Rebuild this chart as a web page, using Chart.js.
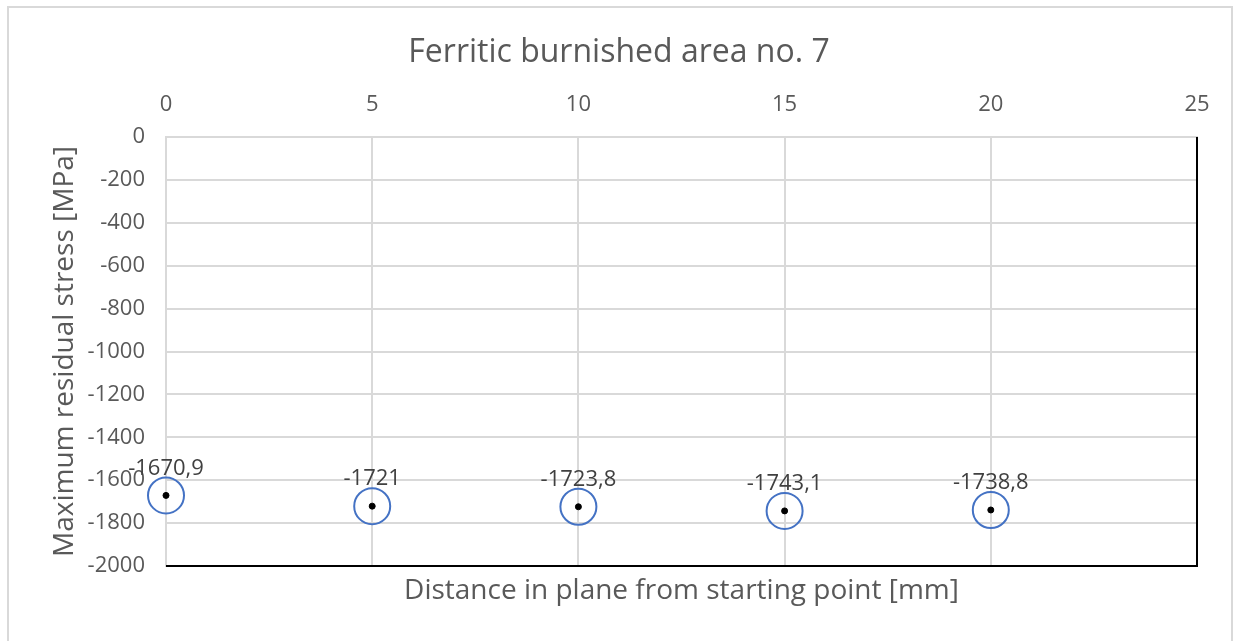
<!DOCTYPE html>
<html>
<head>
<meta charset="utf-8">
<script src="https://cdn.jsdelivr.net/npm/chart.js@4.4.1/dist/chart.umd.min.js"></script>
<style>
  html, body { margin: 0; padding: 0; background: #fff; }
  #wrap { position: relative; width: 1238px; height: 641px; overflow: hidden; }
  #frame { position: absolute; left: 7px; top: 6px; width: 1226px; height: 660px; border: 2px solid #d9d9d9; box-sizing: border-box; }
  canvas { position: absolute; left: 0; top: 0; }
</style>
</head>
<body>
<div id="wrap">
  <div id="frame"></div>
  <canvas id="chart" width="1238" height="641"></canvas>
</div>
<script>
const distances = [0, 5, 10, 15, 20];
const stress = [-1670.9, -1721, -1723.8, -1743.1, -1738.8];
const stressLabels = ['-1670,9', '-1721', '-1723,8', '-1743,1', '-1738,8'];

const FONT = '"Open Sans", "Liberation Sans", sans-serif';

const points = distances.map((d, i) => ({ x: d, y: stress[i] }));

// black right/bottom borders and data labels
const extras = {
    id: 'extras',
    afterDatasetsDraw(chart) {
        const { ctx, chartArea: a } = chart;
        ctx.save();
        ctx.strokeStyle = '#000';
        ctx.lineWidth = 2;
        ctx.beginPath();
        ctx.moveTo(a.right, a.top);
        ctx.lineTo(a.right, a.bottom);
        ctx.lineTo(a.left, a.bottom);
        ctx.stroke();

        const meta = chart.getDatasetMeta(1);
        ctx.fillStyle = '#404040';
        ctx.font = '22px ' + FONT;
        ctx.textAlign = 'center';
        ctx.textBaseline = 'middle';
        meta.data.forEach((pt, i) => {
            ctx.fillText(stressLabels[i], pt.x, pt.y - 27);
        });
        ctx.restore();
    }
};

new Chart(document.getElementById('chart'), {
    type: 'scatter',
    data: {
        datasets: [
            {
                data: points,
                pointRadius: 3,
                pointHoverRadius: 3,
                backgroundColor: '#000',
                borderColor: '#000',
                clip: false
            },
            {
                data: points,
                pointRadius: 18,
                pointHoverRadius: 18,
                pointBorderWidth: 2,
                backgroundColor: 'rgba(0,0,0,0)',
                borderColor: '#4472c4',
                clip: false
            }
        ]
    },
    options: {
        responsive: false,
        animation: false,
        layout: { padding: 0 },
        plugins: {
            legend: { display: false },
            tooltip: { enabled: false },
            title: {
                display: true,
                text: 'Ferritic burnished area no. 7',
                color: '#595959',
                font: { family: FONT, size: 32, weight: 'normal', lineHeight: 1.2 },
                padding: { top: 34, bottom: 0 }
            }
        },
        scales: {
            x: {
                type: 'linear',
                position: 'top',
                min: 0,
                max: 25,
                ticks: { stepSize: 5, color: '#595959', padding: 19, font: { family: FONT, size: 22 } },
                grid: { color: '#d9d9d9', lineWidth: 2, drawTicks: false },
                border: { color: '#d9d9d9', width: 2 },
                afterFit(s) { s.height = 137 - 72.4; }
            },
            x2: {
                type: 'linear',
                position: 'bottom',
                min: 0,
                max: 25,
                ticks: { display: false },
                grid: { display: false, drawTicks: false },
                border: { display: false },
                title: {
                    display: true,
                    text: 'Distance in plane from starting point [mm]',
                    color: '#595959',
                    font: { family: FONT, size: 28, lineHeight: 1.2 },
                    padding: { top: 0, bottom: 33 }
                },
                afterFit(s) { s.height = 641 - 566; }
            },
            y: {
                min: -2000,
                max: 0,
                ticks: {
                    stepSize: 200,
                    color: '#595959',
                    padding: 21,
                    font: { family: FONT, size: 22 },
                    callback: v => String(v)
                },
                grid: { color: '#d9d9d9', lineWidth: 2, drawTicks: false },
                border: { color: '#d9d9d9', width: 2 },
                title: {
                    display: true,
                    text: 'Maximum residual stress [MPa]',
                    color: '#595959',
                    font: { family: FONT, size: 28, lineHeight: 1.2 },
                    padding: { top: 48, bottom: 0 }
                },
                afterFit(s) { s.width = 166; }
            },
            yRight: {
                position: 'right',
                min: -2000,
                max: 0,
                ticks: { display: false },
                grid: { display: false, drawTicks: false },
                border: { display: false },
                afterFit(s) { s.width = 1238 - 1197; }
            }
        }
    },
    plugins: [extras]
});
</script>
</body>
</html>
